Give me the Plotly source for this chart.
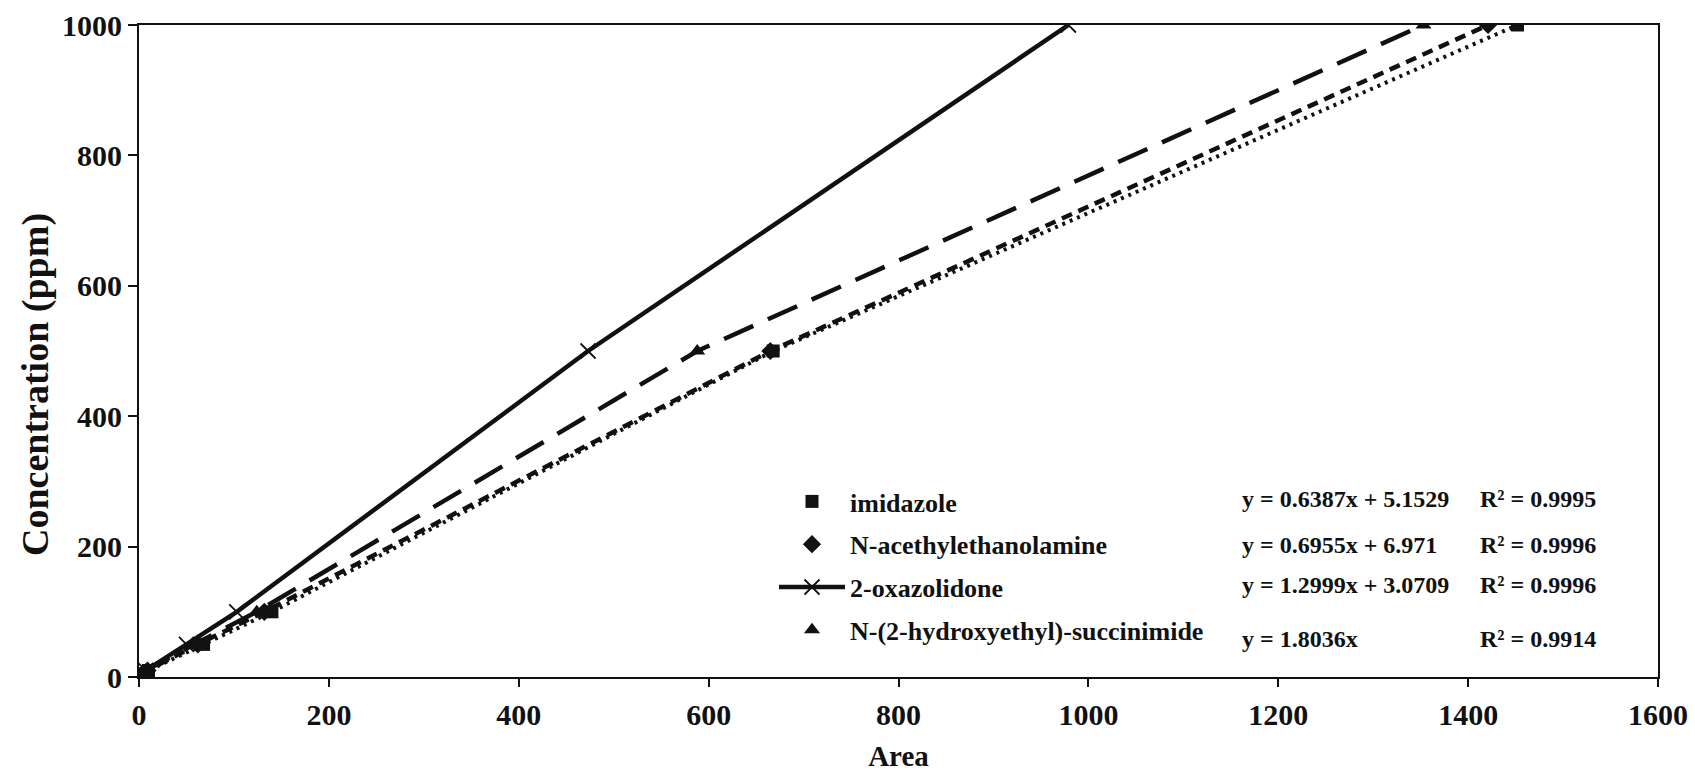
import plotly.graph_objects as go

# Concentration levels (ppm)
conc = [5, 10, 50, 100, 500, 1000]

# Peak areas
area_imidazole = [4, 10, 68, 140, 668, 1452]
area_nacetyl = [4, 9, 62, 132, 665, 1421]
area_oxazolidone = [3, 7, 50, 103, 473, 979]
area_succinimide = [3, 7, 58, 124, 588, 1353]

names = ["imidazole", "N-acethylethanolamine", "2-oxazolidone",
         "N-(2-hydroxyethyl)-succinimide"]
equations = ["y = 0.6387x + 5.1529", "y = 0.6955x + 6.971",
             "y = 1.2999x + 3.0709", "y = 1.8036x"]
r2 = ["R² = 0.9995", "R² = 0.9996", "R² = 0.9996", "R² = 0.9914"]

x_ticks = [0, 200, 400, 600, 800, 1000, 1200, 1400, 1600]
y_ticks = [0, 200, 400, 600, 800, 1000]

FONT = "Liberation Serif, Times New Roman, serif"
BLACK = "#111111"

fig = go.Figure()

# connecting lines (not in legend)
fig.add_trace(go.Scatter(x=area_imidazole, y=conc, mode="lines",
                         line=dict(color=BLACK, width=4, dash="3px,5px"),
                         showlegend=False, hoverinfo="skip"))
fig.add_trace(go.Scatter(x=area_nacetyl, y=conc, mode="lines",
                         line=dict(color=BLACK, width=4.5, dash="11px,7px"),
                         showlegend=False, hoverinfo="skip"))
fig.add_trace(go.Scatter(x=area_succinimide, y=conc, mode="lines",
                         line=dict(color=BLACK, width=4.5, dash="32px,16px"),
                         showlegend=False, hoverinfo="skip"))

# marker traces with legend
fig.add_trace(go.Scatter(x=area_imidazole, y=conc, mode="markers", name=names[0],
                         marker=dict(symbol="square", size=13, color=BLACK),
                         legendgroup="a"))
fig.add_trace(go.Scatter(x=area_nacetyl, y=conc, mode="markers", name=names[1],
                         marker=dict(symbol="diamond", size=14, color=BLACK),
                         legendgroup="b"))
fig.add_trace(go.Scatter(x=area_oxazolidone, y=conc, mode="lines+markers", name=names[2],
                         line=dict(color=BLACK, width=4.5),
                         marker=dict(symbol="x-thin-open", size=15,
                                     line=dict(color=BLACK, width=1.8)),
                         legendgroup="c"))
fig.add_trace(go.Scatter(x=area_succinimide, y=conc, mode="markers", name=names[3],
                         marker=dict(symbol="triangle-up", size=14, color=BLACK),
                         legendgroup="d"))

W, H = 1695, 775
PL, PR, PT, PB = 139, 1658, 25, 677   # plot area in page pixels
pw, ph = PR - PL, PB - PT


def px_to_paper_x(px):
    return (px - PL) / pw


def px_to_paper_y(py):
    return (PB - py) / ph


eq_rows = [499, 545, 585, 639]
annotations = []
for i in range(4):
    annotations.append(dict(x=px_to_paper_x(1240), y=px_to_paper_y(eq_rows[i]),
                            xref="paper", yref="paper", xanchor="left", yanchor="middle",
                            text=equations[i], showarrow=False,
                            font=dict(family=FONT, size=24, color=BLACK, weight="bold")))
    annotations.append(dict(x=px_to_paper_x(1478), y=px_to_paper_y(eq_rows[i]),
                            xref="paper", yref="paper", xanchor="left", yanchor="middle",
                            text=r2[i], showarrow=False,
                            font=dict(family=FONT, size=24, color=BLACK, weight="bold")))

# y-axis title placed as a rotated annotation (it sits below the axis centre)
annotations.append(dict(x=px_to_paper_x(36), y=px_to_paper_y(385),
                        xref="paper", yref="paper", xanchor="center", yanchor="middle",
                        text="Concentration (ppm)", textangle=-90, showarrow=False,
                        font=dict(family=FONT, size=38, color=BLACK, weight="bold")))

fig.update_layout(
    width=W, height=H,
    margin=dict(l=PL, r=W - PR, t=PT, b=H - PB, autoexpand=False),
    paper_bgcolor="white", plot_bgcolor="white",
    font=dict(family=FONT, color=BLACK),
    showlegend=True,
    legend=dict(x=px_to_paper_x(774), y=px_to_paper_y(478), xanchor="left", yanchor="top",
                bgcolor="rgba(0,0,0,0)", borderwidth=0,
                font=dict(family=FONT, size=26, color=BLACK, weight="bold"),
                tracegroupgap=6, itemwidth=66),
    annotations=annotations,
    xaxis=dict(range=[0, 1600], tickvals=x_ticks, ticktext=[str(v) for v in x_ticks],
               automargin=False,
               showgrid=False, zeroline=False,
               showline=True, linecolor=BLACK, linewidth=2, mirror=True,
               ticks="outside", ticklen=8, tickwidth=1.5, tickcolor=BLACK,
               ticklabelstandoff=2,
               tickfont=dict(family=FONT, size=30, color=BLACK, weight="bold"),
               title=dict(text="Area", standoff=16,
                          font=dict(family=FONT, size=29, color=BLACK, weight="bold"))),
    yaxis=dict(range=[0, 1000], tickvals=y_ticks, ticktext=[str(v) for v in y_ticks],
               automargin=False,
               showgrid=False, zeroline=False,
               showline=True, linecolor=BLACK, linewidth=2, mirror=True,
               ticks="outside", ticklen=9, tickwidth=1.5, tickcolor=BLACK,
               ticklabelstandoff=0,
               tickfont=dict(family=FONT, size=30, color=BLACK, weight="bold")),
)

fig.write_html("out.html", config={"displayModeBar": False},
               post_script="document.body.style.margin='0px';")
